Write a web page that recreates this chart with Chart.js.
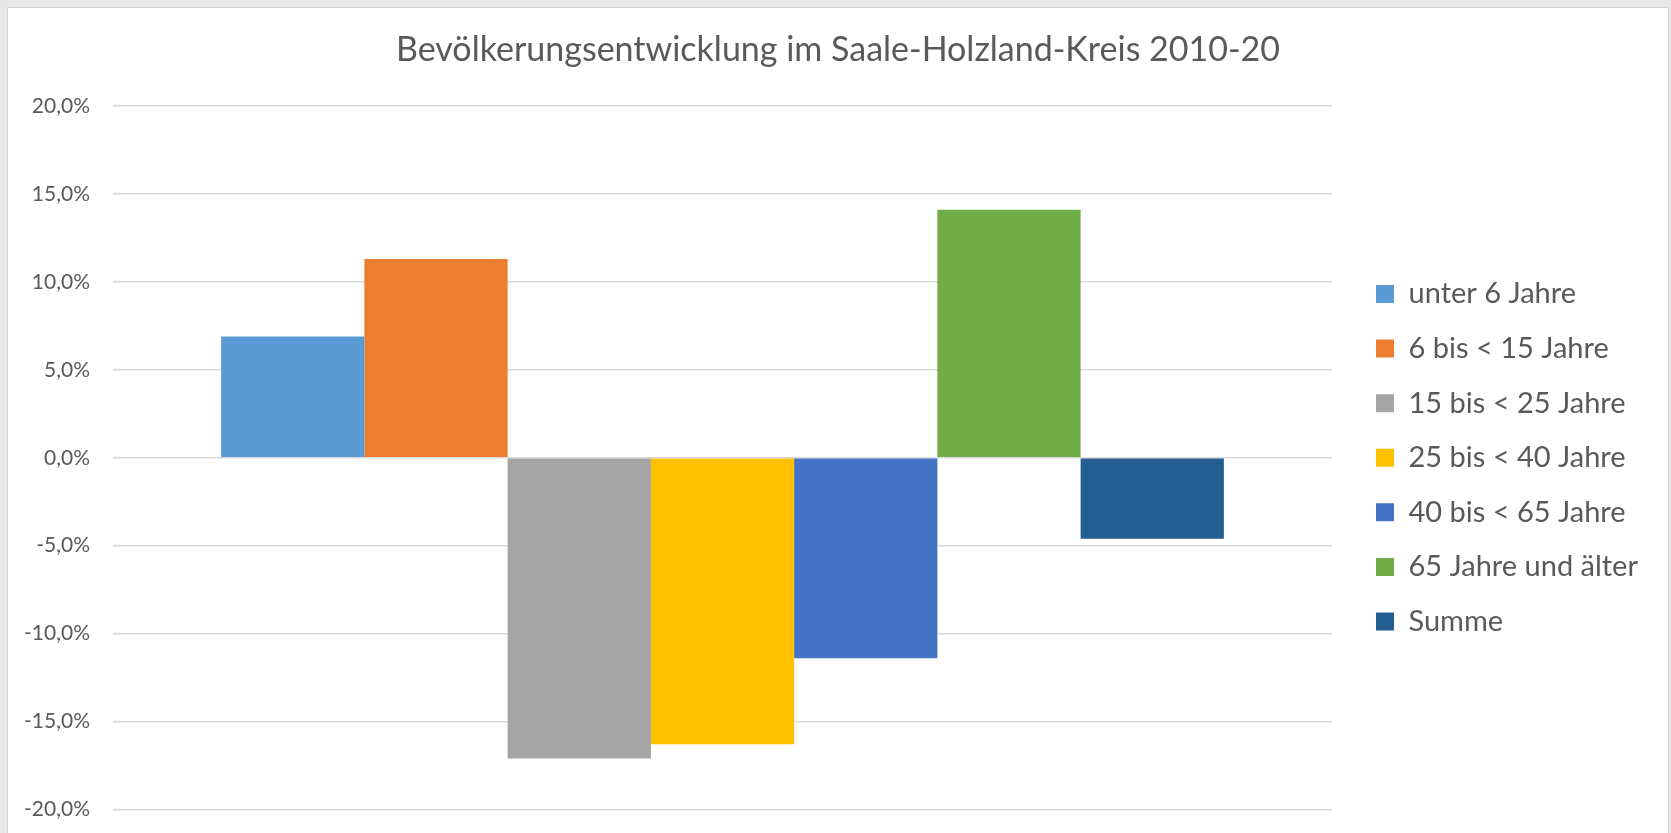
<!DOCTYPE html>
<html lang="de">
<head>
<meta charset="utf-8">
<title>Bevölkerungsentwicklung im Saale-Holzland-Kreis 2010-20</title>
<script src="https://cdn.jsdelivr.net/npm/chart.js@4/dist/chart.umd.min.js"></script>
<style>
  html, body { margin: 0; padding: 0; width: 1671px; height: 833px; overflow: hidden; background: #e7e7e7; }
  #frame {
    position: absolute; left: 7px; top: 7px; width: 1662px; height: 850px;
    box-sizing: border-box; border: 1px solid #d2d2d2; background: #fff;
  }
  /* canvas runs a little past the window bottom, the way the Excel sheet is cut off */
  #wrap { position: absolute; left: 0; top: 0; width: 1660px; height: 837px; }
</style>
</head>
<body>
<div id="frame"><div id="wrap"><canvas id="chart"></canvas></div></div>
<script>
  const categories = ['2010-20'];
  const seriesLabels = ['unter 6 Jahre', '6 bis < 15 Jahre', '15 bis < 25 Jahre', '25 bis < 40 Jahre', '40 bis < 65 Jahre', '65 Jahre und älter', 'Summe'];
  const seriesValues = [6.9, 11.3, -17.1, -16.3, -11.4, 14.1, -4.6];
  const seriesColors = ['#5b9bd5', '#ed7d31', '#a5a5a5', '#ffc000', '#4472c4', '#70ad47', '#255e91'];
  const yTicks = [-20, -15, -10, -5, 0, 5, 10, 15, 20];

  const textColor = '#595959';
  const fontFamily = 'Lato, "Open Sans", sans-serif';

  const datasets = seriesLabels.map((label, i) => ({
    label,
    data: [seriesValues[i]],
    backgroundColor: seriesColors[i],
    borderWidth: 0,
    categoryPercentage: 0.8226,
    barPercentage: 1.0
  }));

  // keep the legend column at a fixed width, like Excel does, so the plot keeps its size
  const legendWidth = {
    id: 'legendWidth',
    afterInit(chart) {
      const legend = chart.legend;
      if (!legend) return;
      const fit = legend.fit.bind(legend);
      legend.fit = function () {
        fit();
        this.width = 317.6;
      };
    }
  };

  new Chart(document.getElementById('chart'), {
    type: 'bar',
    data: { labels: categories, datasets },
    plugins: [legendWidth],
    options: {
      responsive: true,
      maintainAspectRatio: false,
      animation: false,
      layout: { padding: 0 },
      plugins: {
        title: {
          display: true,
          text: 'Bevölkerungsentwicklung im Saale-Holzland-Kreis 2010-20',
          color: textColor,
          font: { family: fontFamily, size: 34, weight: 'normal' },
          padding: { top: 21.6, bottom: 35.7 }
        },
        legend: {
          position: 'right',
          fullSize: false,
          labels: {
            color: textColor,
            font: { family: fontFamily, size: 29 },
            boxWidth: 18,
            boxHeight: 18,
            padding: 25.6
          }
        },
        tooltip: { enabled: false }
      },
      scales: {
        x: { display: false },
        y: {
          min: yTicks[0],
          max: yTicks[yTicks.length - 1],
          afterBuildTicks: (scale) => { scale.ticks = yTicks.map((v) => ({ value: v })); },
          afterFit: (scale) => { scale.width = 105; },
          border: { display: false },
          grid: { color: '#d9d9d9', lineWidth: 1.5, drawTicks: false },
          ticks: {
            color: textColor,
            padding: 23,
            font: { family: fontFamily, size: 21 },
            callback: (v) => v.toFixed(1).replace('.', ',') + '%'
          }
        },
        gap: {
          position: 'right',
          display: true,
          afterFit: (scale) => { scale.width = 18.4; },
          border: { display: false },
          grid: { display: false, drawTicks: false },
          ticks: { display: false }
        }
      }
    }
  });
</script>
</body>
</html>
